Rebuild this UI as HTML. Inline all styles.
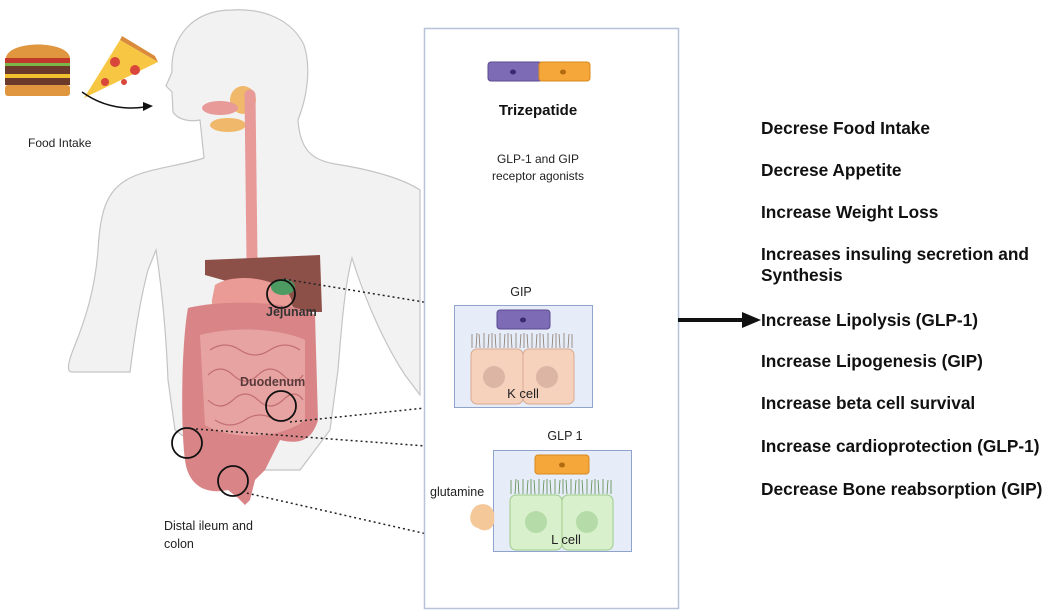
<!DOCTYPE html>
<html><head><meta charset="utf-8"><style>
html,body{margin:0;padding:0;background:#fff;}
svg{display:block;font-family:"Liberation Sans",sans-serif;}
</style></head><body>
<svg width="1053" height="616" viewBox="0 0 1053 616" xmlns="http://www.w3.org/2000/svg">
<!-- body silhouette -->
<path d="M232,10 C192,10 170,38 172,72 L166,86 L172,92 L173,112 C178,120 190,122 200,120 L204,158 C180,166 150,168 130,178 C105,190 100,215 98,250 C95,290 85,320 75,345 C68,362 66,372 72,372 L130,372 C134,340 140,300 148,270 L156,250 C162,290 166,330 168,380 L175,430 L230,470 L300,470 L330,430 L338,370 C342,320 345,285 352,258 C365,300 385,345 405,375 L420,395 L420,190 C405,180 375,170 335,164 C312,160 300,150 298,120 C306,100 312,70 304,45 C292,20 264,8 232,10 Z" fill="#f2f2f2" stroke="#c4c4c4" stroke-width="1.2"/>
<!-- salivary -->
<ellipse cx="243" cy="100" rx="13" ry="14" fill="#f0b86a"/>
<ellipse cx="220" cy="108" rx="18" ry="7" fill="#e79a98"/>
<ellipse cx="228" cy="125" rx="18" ry="7" fill="#f0b86a"/>
<!-- esophagus -->
<path d="M250,95 L252,260" stroke="#e79a98" stroke-width="11" fill="none" stroke-linecap="round"/>
<!-- liver -->
<path d="M205,260 L320,255 L322,312 L300,312 L270,290 L230,282 L205,275 Z" fill="#8d5048"/>
<!-- stomach -->
<path d="M215,285 C230,275 265,275 285,290 C300,305 290,320 270,325 C240,330 210,320 212,300 Z" fill="#ea9b95"/>
<path d="M215,315 C240,330 285,330 305,325 L300,335 C270,340 230,335 215,325 Z" fill="#f2c27e"/>
<ellipse cx="283" cy="287" rx="12" ry="8" fill="#4d9b62"/>
<!-- intestines -->
<path d="M188,308 C220,300 290,300 315,315 L318,420 C312,440 300,445 280,440 L265,470 L255,480 L250,500 L245,505 L238,498 L228,490 C205,495 188,485 185,460 C180,420 182,340 188,308 Z" fill="#d98587"/>
<path d="M200,335 C240,325 285,330 305,340 L305,420 C280,440 230,440 205,425 Z" fill="#e7a3a2"/>
<g stroke="#c16e72" stroke-width="1.2" fill="none">
<path d="M210,350 q15,-10 30,0 q15,10 30,0 q15,-10 30,0"/>
<path d="M208,375 q12,-12 25,0 q12,12 25,0 q12,-12 25,0 q12,12 20,0"/>
<path d="M208,400 q12,12 25,0 q12,-12 25,0 q12,12 25,0 q12,-12 20,0"/>
<path d="M215,420 q15,10 30,0 q15,-10 30,0"/>
</g>
<!-- circles -->
<g fill="none" stroke="#111" stroke-width="1.8">
<circle cx="281" cy="294" r="14"/>
<circle cx="281" cy="406" r="15"/>
<circle cx="187" cy="443" r="15"/>
<circle cx="233" cy="481" r="15"/>
</g>
<!-- dotted lines -->
<g stroke="#222" stroke-width="1.5" stroke-dasharray="2,3" fill="none">
<line x1="284" y1="279" x2="454" y2="307"/>
<line x1="290" y1="422" x2="454" y2="405"/>
<line x1="196" y1="429" x2="493" y2="451"/>
<line x1="242" y1="492" x2="493" y2="549"/>
</g>
<!-- food -->
<path d="M6,58 C8,40 68,40 70,58 Z" fill="#e0953f"/>
<rect x="5" y="58" width="65" height="5" fill="#c0392b"/>
<rect x="5" y="63" width="65" height="3" fill="#7ab648"/>
<rect x="5" y="66" width="65" height="8" fill="#6b3a2a"/>
<rect x="5" y="74" width="65" height="4" fill="#f2c12e"/>
<rect x="5" y="78" width="65" height="7" fill="#6b3a2a"/>
<rect x="5" y="85" width="65" height="11" rx="3" fill="#e0953f"/>
<path d="M84,98 L120,40 L158,62 Z" fill="#f7c744"/>
<path d="M120,40 L158,62 L155,56 L122,36 Z" fill="#d98a3a"/>
<circle cx="115" cy="62" r="5" fill="#d9473a"/><circle cx="135" cy="70" r="5" fill="#d9473a"/><circle cx="105" cy="82" r="4" fill="#d9473a"/><circle cx="124" cy="82" r="3" fill="#d9473a"/>
<path d="M82,92 Q110,112 145,107" stroke="#111" stroke-width="1.5" fill="none"/>
<path d="M143,102 L153,106 L143,111 Z" fill="#111"/>
<text x="28" y="147" font-size="12" fill="#222">Food Intake</text>
<text x="266" y="316" font-size="12.5" font-weight="bold" fill="#333">Jejunam</text>
<text x="240" y="386" font-size="12.5" font-weight="bold" fill="#5a3a3a">Duodenum</text>
<text x="164" y="530" font-size="12.5" fill="#222">Distal ileum and</text>
<text x="164" y="548" font-size="12.5" fill="#222">colon</text>
<!-- panel -->
<rect x="424.5" y="28.5" width="254" height="580" fill="#fff" stroke="#b6c3d8" stroke-width="1.5"/>
<rect x="488" y="62" width="54" height="19" rx="3" fill="#7e6bb5" stroke="#5a4a90"/>
<rect x="539" y="62" width="51" height="19" rx="3" fill="#f5a73a" stroke="#d98a1e"/>
<ellipse cx="513" cy="72" rx="3" ry="2.5" fill="#3a2a70"/>
<ellipse cx="563" cy="72" rx="3" ry="2.5" fill="#b06a10"/>
<text x="538" y="115" font-size="15" font-weight="bold" text-anchor="middle" fill="#111">Trizepatide</text>
<text x="538" y="163" font-size="12" text-anchor="middle" fill="#222">GLP-1 and GIP</text>
<text x="538" y="180" font-size="12" text-anchor="middle" fill="#222">receptor agonists</text>
<!-- GIP box -->
<text x="521" y="296" font-size="12.5" text-anchor="middle" fill="#222">GIP</text>
<rect x="454.5" y="305.5" width="138" height="102" fill="#e6ecf8" stroke="#8fa3cc"/>
<rect x="497" y="310" width="53" height="19" rx="3" fill="#7e6bb5" stroke="#5a4a90"/>
<ellipse cx="523" cy="320" rx="3" ry="2.5" fill="#3a2a70"/>
<path d="M472,348 l0,-14 M476,348 l1,-15 M480,348 l-1,-14 M484,348 l0,-15 M488,348 l1,-14 M492,348 l0,-15 M496,348 l-1,-14 M500,348 l0,-15 M504,348 l1,-14 M508,348 l0,-15 M512,348 l-1,-14 M516,348 l0,-15 M520,348 l1,-14 M524,348 l0,-15 M528,348 l-1,-14 M532,348 l0,-15 M536,348 l1,-14 M540,348 l0,-15 M544,348 l-1,-14 M548,348 l0,-15 M552,348 l1,-14 M556,348 l0,-15 M560,348 l-1,-14 M564,348 l0,-15 M568,348 l1,-14 M572,348 l0,-14" stroke="#8a7a6a" stroke-width="0.8"/>
<rect x="471" y="349" width="52" height="55" rx="6" fill="#f6d2bd" stroke="#d9a98e"/>
<rect x="523" y="349" width="51" height="55" rx="6" fill="#f6d2bd" stroke="#d9a98e"/>
<circle cx="494" cy="377" r="11" fill="#dcb5a5"/><circle cx="547" cy="377" r="11" fill="#dcb5a5"/>
<text x="523" y="398" font-size="13" text-anchor="middle" fill="#222">K cell</text>
<!-- GLP1 box -->
<text x="565" y="440" font-size="12.5" text-anchor="middle" fill="#222">GLP 1</text>
<rect x="493.5" y="450.5" width="138" height="101" fill="#e6ecf8" stroke="#8fa3cc"/>
<rect x="535" y="455" width="54" height="19" rx="3" fill="#f5a73a" stroke="#d98a1e"/>
<ellipse cx="562" cy="465" rx="3" ry="2.5" fill="#b06a10"/>
<path d="M511,494 l0,-14 M515,494 l1,-15 M519,494 l-1,-14 M523,494 l0,-15 M527,494 l1,-14 M531,494 l0,-15 M535,494 l-1,-14 M539,494 l0,-15 M543,494 l1,-14 M547,494 l0,-15 M551,494 l-1,-14 M555,494 l0,-15 M559,494 l1,-14 M563,494 l0,-15 M567,494 l-1,-14 M571,494 l0,-15 M575,494 l1,-14 M579,494 l0,-15 M583,494 l-1,-14 M587,494 l0,-15 M591,494 l1,-14 M595,494 l0,-15 M599,494 l-1,-14 M603,494 l0,-15 M607,494 l1,-14 M611,494 l0,-14" stroke="#5a8a4a" stroke-width="0.8"/>
<rect x="510" y="495" width="52" height="55" rx="6" fill="#d8f0cc" stroke="#9fcc8a"/>
<rect x="562" y="495" width="51" height="55" rx="6" fill="#d8f0cc" stroke="#9fcc8a"/>
<circle cx="536" cy="522" r="11" fill="#b5dca8"/><circle cx="587" cy="522" r="11" fill="#b5dca8"/>
<text x="566" y="544" font-size="13" text-anchor="middle" fill="#222">L cell</text>
<text x="430" y="496" font-size="12.5" fill="#222">glutamine</text>
<path d="M476,506 C488,500 496,510 494,518 C496,528 486,534 478,528 C468,526 468,512 476,506 Z" fill="#f5c89a"/>
<!-- arrow -->
<line x1="678" y1="320" x2="745" y2="320" stroke="#111" stroke-width="4"/>
<path d="M742,312 L761,320 L742,328 Z" fill="#111"/>
<!-- right list -->
<g font-size="17.3" font-weight="bold" fill="#111">
<text x="761" y="134">Decrese Food Intake</text>
<text x="761" y="176">Decrese Appetite</text>
<text x="761" y="218">Increase Weight Loss</text>
<text x="761" y="260">Increases insuling secretion and</text>
<text x="761" y="281">Synthesis</text>
<text x="761" y="326">Increase Lipolysis (GLP-1)</text>
<text x="761" y="367">Increase Lipogenesis (GIP)</text>
<text x="761" y="409">Increase beta cell survival</text>
<text x="761" y="452">Increase cardioprotection (GLP-1)</text>
<text x="761" y="495">Decrease Bone reabsorption (GIP)</text>
</g>
</svg>
</body></html>
